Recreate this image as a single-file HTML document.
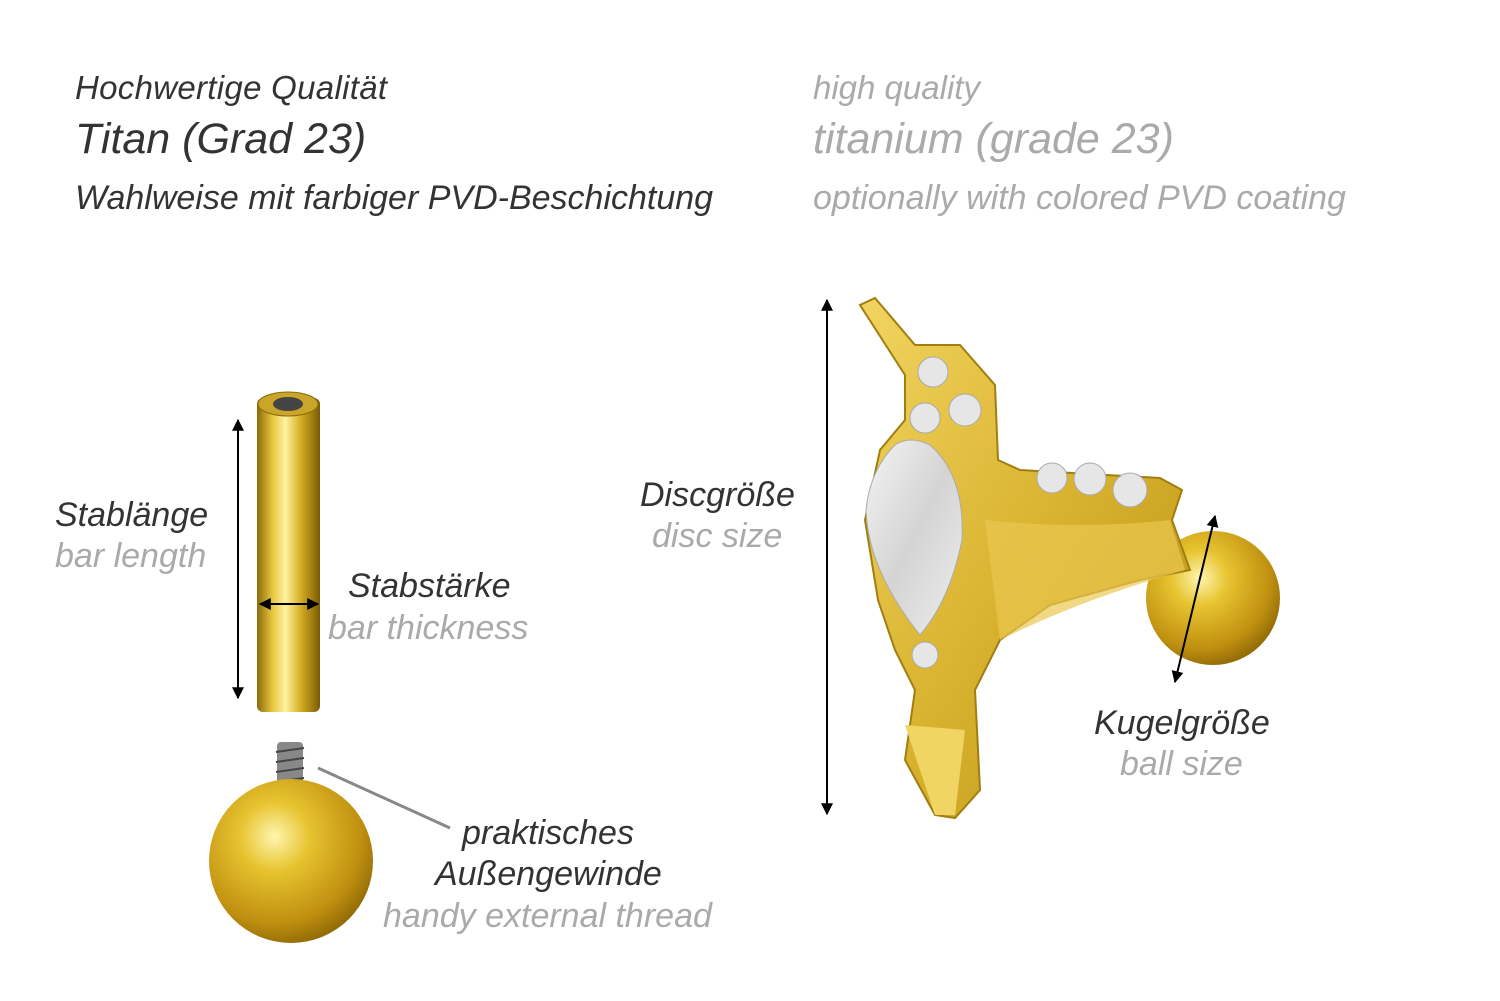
<!DOCTYPE html>
<html><head><meta charset="utf-8"><style>
html,body{margin:0;padding:0;background:#fff}
body{width:1500px;height:1001px;position:relative;overflow:hidden;font-family:"Liberation Sans",sans-serif;font-style:italic}
.t{position:absolute;white-space:nowrap;line-height:1}
.d{color:#333}.l{color:#aaa}
svg{position:absolute;left:0;top:0}
</style></head><body>
<svg width="1500" height="1001" viewBox="0 0 1500 1001">
<defs>
<linearGradient id="bar" x1="0" x2="1" y1="0" y2="0">
<stop offset="0" stop-color="#8a6a08"/><stop offset="0.25" stop-color="#e8c840"/><stop offset="0.45" stop-color="#fff3a0"/><stop offset="0.7" stop-color="#d4ad20"/><stop offset="1" stop-color="#7a5a05"/></linearGradient>
<radialGradient id="ball" cx="0.4" cy="0.35" r="0.7">
<stop offset="0" stop-color="#fff6b0"/><stop offset="0.3" stop-color="#e7c430"/><stop offset="0.75" stop-color="#c09010"/><stop offset="1" stop-color="#8a6505"/></radialGradient>
<linearGradient id="gold" x1="0" x2="1" y1="0" y2="1">
<stop offset="0" stop-color="#f2d460"/><stop offset="0.5" stop-color="#d9b330"/><stop offset="1" stop-color="#b8900f"/></linearGradient>
<linearGradient id="stone" x1="0" x2="1" y1="0" y2="1">
<stop offset="0" stop-color="#f4f4f4"/><stop offset="0.5" stop-color="#d4d4d4"/><stop offset="1" stop-color="#eee"/></linearGradient>
<marker id="ah" viewBox="0 0 10 10" refX="9" refY="5" markerWidth="6" markerHeight="6" orient="auto-start-reverse"><path d="M0,0L10,5L0,10z" fill="#000"/></marker>
</defs>
<rect x="257" y="398" width="63" height="314" rx="6" fill="url(#bar)"/>
<ellipse cx="288" cy="404" rx="30" ry="12" fill="#c9a52a" stroke="#8a6a08"/>
<ellipse cx="288" cy="404" rx="15" ry="7" fill="#444"/>
<line x1="238" y1="420" x2="238" y2="698" stroke="#000" stroke-width="2" marker-start="url(#ah)" marker-end="url(#ah)"/>
<line x1="260" y1="604" x2="318" y2="604" stroke="#000" stroke-width="2" marker-start="url(#ah)" marker-end="url(#ah)"/>
<rect x="277" y="742" width="26" height="58" rx="4" fill="#888"/>
<g stroke="#444" stroke-width="2"><line x1="276" y1="752" x2="304" y2="748"/><line x1="276" y1="762" x2="304" y2="758"/><line x1="276" y1="772" x2="304" y2="768"/><line x1="276" y1="782" x2="304" y2="778"/><line x1="276" y1="792" x2="304" y2="788"/></g>
<circle cx="291" cy="861" r="82" fill="url(#ball)"/>
<line x1="318" y1="768" x2="450" y2="828" stroke="#888" stroke-width="3"/>
<line x1="827" y1="300" x2="827" y2="814" stroke="#000" stroke-width="2" marker-start="url(#ah)" marker-end="url(#ah)"/>
<circle cx="1213" cy="598" r="67" fill="url(#ball)"/>
<path d="M860,305 L875,298 L915,345 L960,345 L995,385 L998,460 L1020,470 L1160,478 L1182,490 L1172,520 L1190,570 L1140,580 L1050,605 L1000,640 L975,690 L980,790 L955,818 L935,815 L905,760 L915,690 L895,650 L878,600 L865,520 L880,450 L905,420 L905,375 Z" fill="url(#gold)" stroke="#a07e10" stroke-width="2"/>
<path d="M985,520 Q1080,530 1170,520 L1185,570 Q1080,600 1000,640 Z" fill="#e9c850" opacity="0.7"/>
<path d="M905,725 L935,815 L955,815 L965,730 Z" fill="#f0d565"/>
<path d="M895,445 Q870,470 866,510 Q868,570 920,635 Q950,600 962,540 Q965,475 930,445 Q910,435 895,445Z" fill="url(#stone)" stroke="#aaa"/>
<g fill="#e6e6e6" stroke="#aaa"><circle cx="933" cy="372" r="15"/><circle cx="925" cy="418" r="15"/><circle cx="965" cy="410" r="16"/><circle cx="1052" cy="478" r="15"/><circle cx="1090" cy="479" r="16"/><circle cx="1130" cy="490" r="17"/><circle cx="925" cy="655" r="13"/></g>
<line x1="1215" y1="516" x2="1175" y2="682" stroke="#000" stroke-width="2" marker-start="url(#ah)" marker-end="url(#ah)"/>
</svg>
<div class="t d" style="left:75px;top:71px;font-size:33px;letter-spacing:0.3px">Hochwertige Qualität</div>
<div class="t d" style="left:75px;top:118px;font-size:43px">Titan (Grad 23)</div>
<div class="t d" style="left:75px;top:181px;font-size:34px">Wahlweise mit farbiger PVD-Beschichtung</div>
<div class="t l" style="left:813px;top:71px;font-size:33px">high quality</div>
<div class="t l" style="left:813px;top:118px;font-size:43px">titanium (grade 23)</div>
<div class="t l" style="left:813px;top:181px;font-size:34px">optionally with colored PVD coating</div>
<div class="t d" style="left:55px;top:498px;font-size:34px">Stablänge</div>
<div class="t l" style="left:55px;top:539px;font-size:34px">bar length</div>
<div class="t d" style="left:348px;top:569px;font-size:34px">Stabstärke</div>
<div class="t l" style="left:328px;top:611px;font-size:34px">bar thickness</div>
<div class="t d" style="left:462px;top:816px;font-size:34px">praktisches</div>
<div class="t d" style="left:435px;top:857px;font-size:34px">Außengewinde</div>
<div class="t l" style="left:383px;top:899px;font-size:34px">handy external thread</div>
<div class="t d" style="left:640px;top:478px;font-size:34px">Discgröße</div>
<div class="t l" style="left:652px;top:519px;font-size:34px">disc size</div>
<div class="t d" style="left:1094px;top:706px;font-size:34px">Kugelgröße</div>
<div class="t l" style="left:1120px;top:747px;font-size:34px">ball size</div>
</body></html>
